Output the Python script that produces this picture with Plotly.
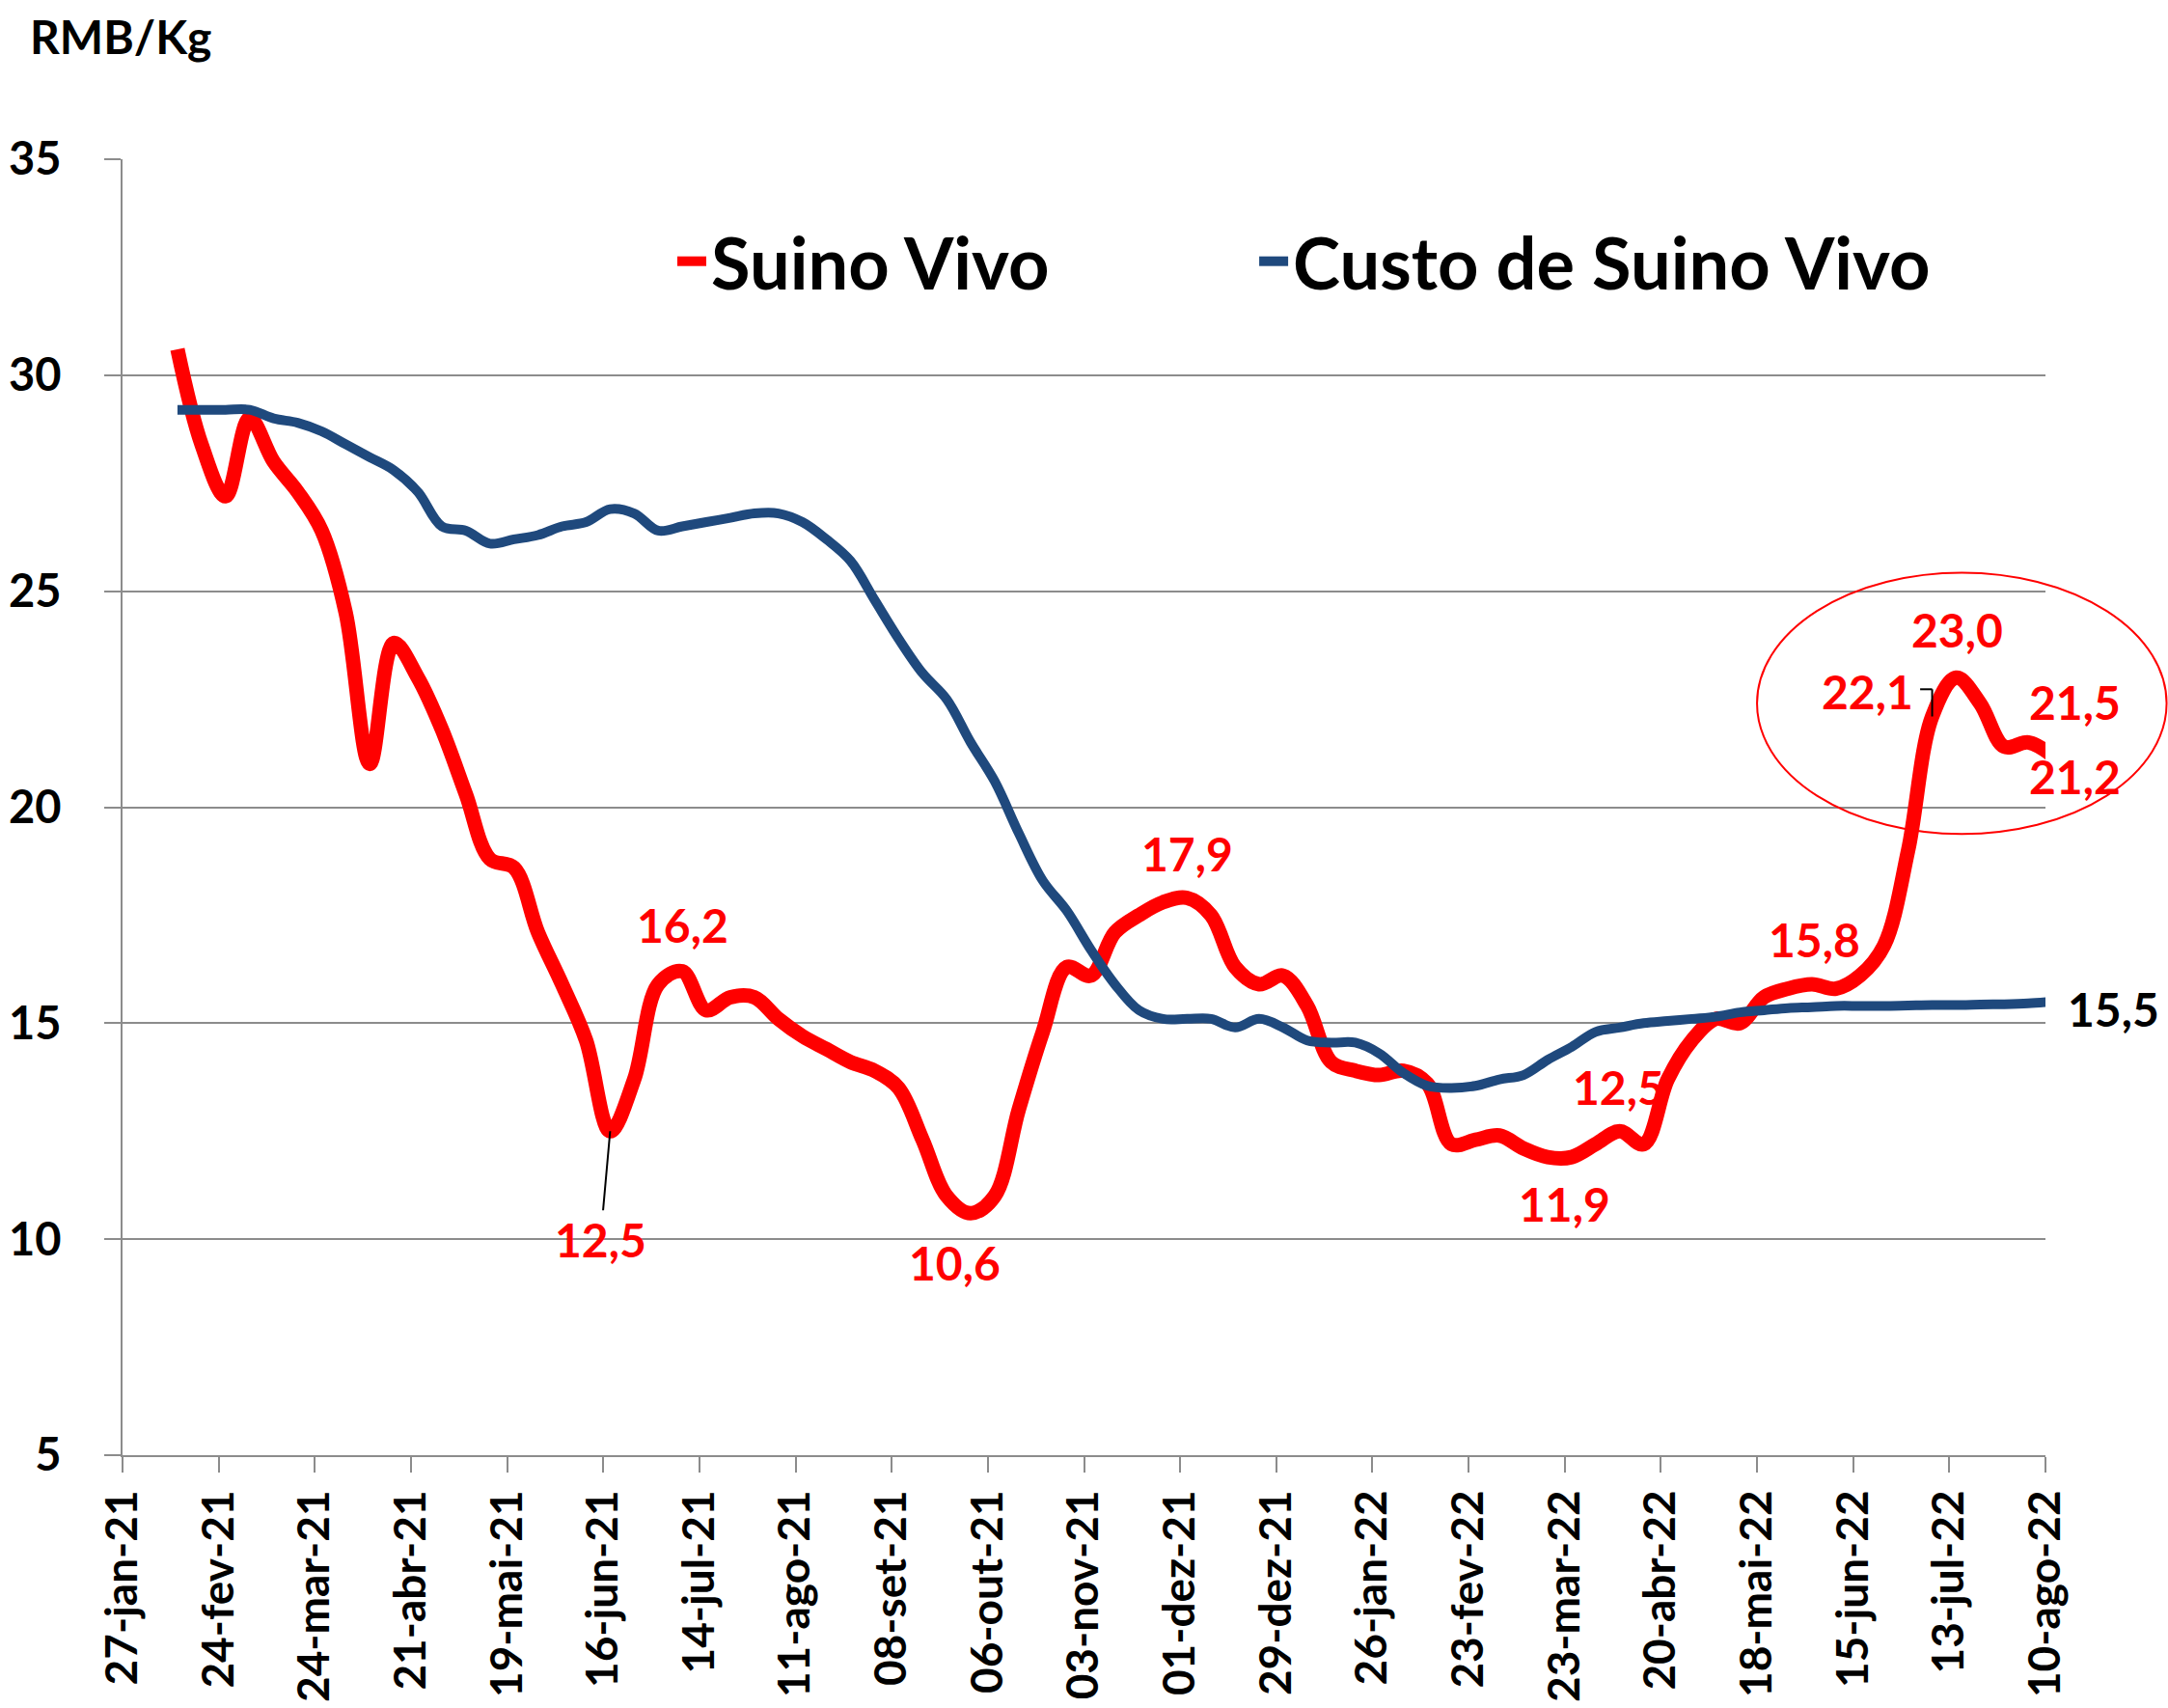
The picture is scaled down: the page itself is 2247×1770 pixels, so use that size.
import plotly.graph_objects as go
import pandas as pd

# ---- data (weekly observations, RMB/Kg) ----
dates = pd.date_range("2021-02-12", periods=79, freq="7D")

suino_vivo = [30.6, 28.4, 27.2, 29.0, 28.0, 27.3, 26.4, 24.5, 21.0, 23.8,
              23.0, 21.8, 20.3, 18.8, 18.6, 17.1, 15.9, 14.6, 12.5, 13.7,
              15.9, 16.2, 15.3, 15.6, 15.6, 15.1, 14.7, 14.4, 14.1, 13.9,
              13.5, 12.3, 11.0, 10.6, 11.0, 13.0, 14.8, 16.3, 16.1, 17.1,
              17.5, 17.8, 17.9, 17.5, 16.3, 15.9, 16.1, 15.4, 14.1, 13.9,
              13.8, 13.9, 13.6, 12.2, 12.3, 12.4, 12.1, 11.9, 11.9, 12.2,
              12.5, 12.2, 13.7, 14.6, 15.1, 15.0, 15.6, 15.8, 15.9, 15.8,
              16.1, 16.8, 19.0, 22.1, 23.0, 22.4, 21.4, 21.5, 21.2]

custo_suino = [29.2, 29.2, 29.2, 29.2, 29.0, 28.9, 28.7, 28.4, 28.1, 27.8,
               27.3, 26.5, 26.4, 26.1, 26.2, 26.3, 26.5, 26.6, 26.9, 26.8,
               26.4, 26.5, 26.6, 26.7, 26.8, 26.8, 26.6, 26.2, 25.7, 24.8,
               23.9, 23.1, 22.5, 21.5, 20.6, 19.4, 18.3, 17.6, 16.7, 15.9,
               15.3, 15.1, 15.1, 15.1, 14.9, 15.1, 14.9, 14.6, 14.55, 14.55,
               14.3, 13.85, 13.55, 13.5, 13.55, 13.7, 13.8, 14.15, 14.45, 14.8,
               14.9, 15.0, 15.05, 15.1, 15.15, 15.25, 15.3, 15.35, 15.37, 15.4,
               15.4, 15.4, 15.41, 15.42, 15.42, 15.43, 15.44, 15.46, 15.5]

tick_dates = ["2021-01-27", "2021-02-24", "2021-03-24", "2021-04-21", "2021-05-19",
              "2021-06-16", "2021-07-14", "2021-08-11", "2021-09-08", "2021-10-06",
              "2021-11-03", "2021-12-01", "2021-12-29", "2022-01-26", "2022-02-23",
              "2022-03-23", "2022-04-20", "2022-05-18", "2022-06-15", "2022-07-13",
              "2022-08-10"]
tick_labels = ["27-jan-21", "24-fev-21", "24-mar-21", "21-abr-21", "19-mai-21",
               "16-jun-21", "14-jul-21", "11-ago-21", "08-set-21", "06-out-21",
               "03-nov-21", "01-dez-21", "29-dez-21", "26-jan-22", "23-fev-22",
               "23-mar-22", "20-abr-22", "18-mai-22", "15-jun-22", "13-jul-22",
               "10-ago-22"]

y_ticks = [5, 10, 15, 20, 25, 30, 35]

# highlighted points of "Suino Vivo": (index, xshift px, yshift px)
red_labels = [(21, 0, 48), (33, -17, -51), (42, 0, 46), (58, -7, -48),
              (60, -1, 46), (69, -22, 51), (73, -67, 26), (74, 1, 50),
              (77, 48, 42)]

RED = "#FF0000"
BLUE = "#1F497D"
GRID = "#8C8C8C"
FONT = "Lato"


def fmt(v):
    return f"{v:.1f}".replace(".", ",")


fig = go.Figure()
fig.add_trace(go.Scatter(x=dates, y=suino_vivo, name="Suino Vivo", mode="lines",
                         legend="legend",
                         line=dict(color=RED, width=15, shape="spline", smoothing=1.0)))
fig.add_trace(go.Scatter(x=dates, y=custo_suino, name="Custo de Suino Vivo", mode="lines",
                         legend="legend2",
                         line=dict(color=BLUE, width=10, shape="spline", smoothing=1.0)))

annotations = []
lbl_font = dict(family=FONT, size=48, color=RED, weight="bold")
for idx, dx, dy in red_labels:
    annotations.append(dict(x=dates[idx], y=suino_vivo[idx], xref="x", yref="y",
                            text=fmt(suino_vivo[idx]), showarrow=False,
                            xshift=dx, yshift=dy, font=lbl_font))
# first minimum, with leader line
annotations.append(dict(x=dates[18], y=suino_vivo[18], xref="x", yref="y",
                        text=fmt(suino_vivo[18]), showarrow=True, arrowhead=0,
                        arrowwidth=2, arrowcolor="black", ax=-10, ay=112,
                        standoff=0, font=lbl_font))
# last point lies just past the axis end: anchor to the previous in-range date
annotations.append(dict(x=dates[77], y=suino_vivo[78], xref="x", yref="y",
                        text=fmt(suino_vivo[78]), showarrow=False,
                        xshift=48, yshift=-22, font=lbl_font))
# last cost value, right of the plot
annotations.append(dict(x=dates[77], y=custo_suino[78], xref="x", yref="y",
                        text=fmt(custo_suino[78]), showarrow=False,
                        xshift=88, yshift=-8,
                        font=dict(family=FONT, size=48, color="black", weight="bold")))
# unit label
annotations.append(dict(x=-0.049, y=1.0946, xref="paper", yref="paper",
                        text="RMB/Kg", showarrow=False, xanchor="left", yanchor="middle",
                        font=dict(family=FONT, size=48, color="black", weight="bold")))

shapes = [
    # highlight ellipse around the recent peak
    dict(type="circle", xref="paper", yref="y", x0=0.850, x1=1.063, y0=19.38, y1=25.43,
         line=dict(color=RED, width=2), layer="above"),
    # elbow leader for the 22,1 label
    dict(type="line", xref="x", yref="y",
         x0=dates[73] - pd.Timedelta(days=3.5), x1=dates[73],
         y0=suino_vivo[73] + 0.63, y1=suino_vivo[73] + 0.63,
         line=dict(color="black", width=2)),
    dict(type="line", xref="x", yref="y", x0=dates[73], x1=dates[73],
         y0=suino_vivo[73] + 0.63, y1=suino_vivo[73],
         line=dict(color="black", width=2)),
]

leg_font = dict(family=FONT, size=74, color="black", weight="bold")
fig.update_layout(
    width=2247, height=1770,
    margin=dict(l=127, r=127, t=165, b=262, autoexpand=False),
    paper_bgcolor="white", plot_bgcolor="white",
    font=dict(family=FONT, size=44, color="black", weight="bold"),
    showlegend=True,
    legend=dict(x=0.286, xanchor="left", y=0.921, yanchor="middle",
                font=leg_font, bgcolor="rgba(0,0,0,0)"),
    legend2=dict(x=0.5886, xanchor="left", y=0.921, yanchor="middle",
                 font=leg_font, bgcolor="rgba(0,0,0,0)"),
    annotations=annotations,
    shapes=shapes,
)
fig.update_xaxes(type="date", range=["2021-01-27", "2022-08-10"],
                 tickmode="array", tickvals=tick_dates, ticktext=tick_labels,
                 tickangle=-90, tickfont=dict(family=FONT, size=46, color="black", weight="bold"),
                 ticks="outside", ticklen=16, tickwidth=2, tickcolor=GRID,
                 showline=True, linecolor=GRID, linewidth=2, showgrid=False,
                 zeroline=False, automargin=False, ticklabelstandoff=0)
fig.update_yaxes(range=[5, 35], tickmode="array", tickvals=y_ticks,
                 tickfont=dict(family=FONT, size=47, color="black", weight="bold"),
                 ticks="outside", ticklen=17, tickwidth=2, tickcolor=GRID,
                 showline=True, linecolor=GRID, linewidth=2,
                 showgrid=True, gridcolor=GRID, gridwidth=2,
                 zeroline=False, automargin=False, ticklabelstandoff=35)

fig.write_html("out.html", config={"displayModeBar": False},
               post_script="document.body.style.margin='0';")
